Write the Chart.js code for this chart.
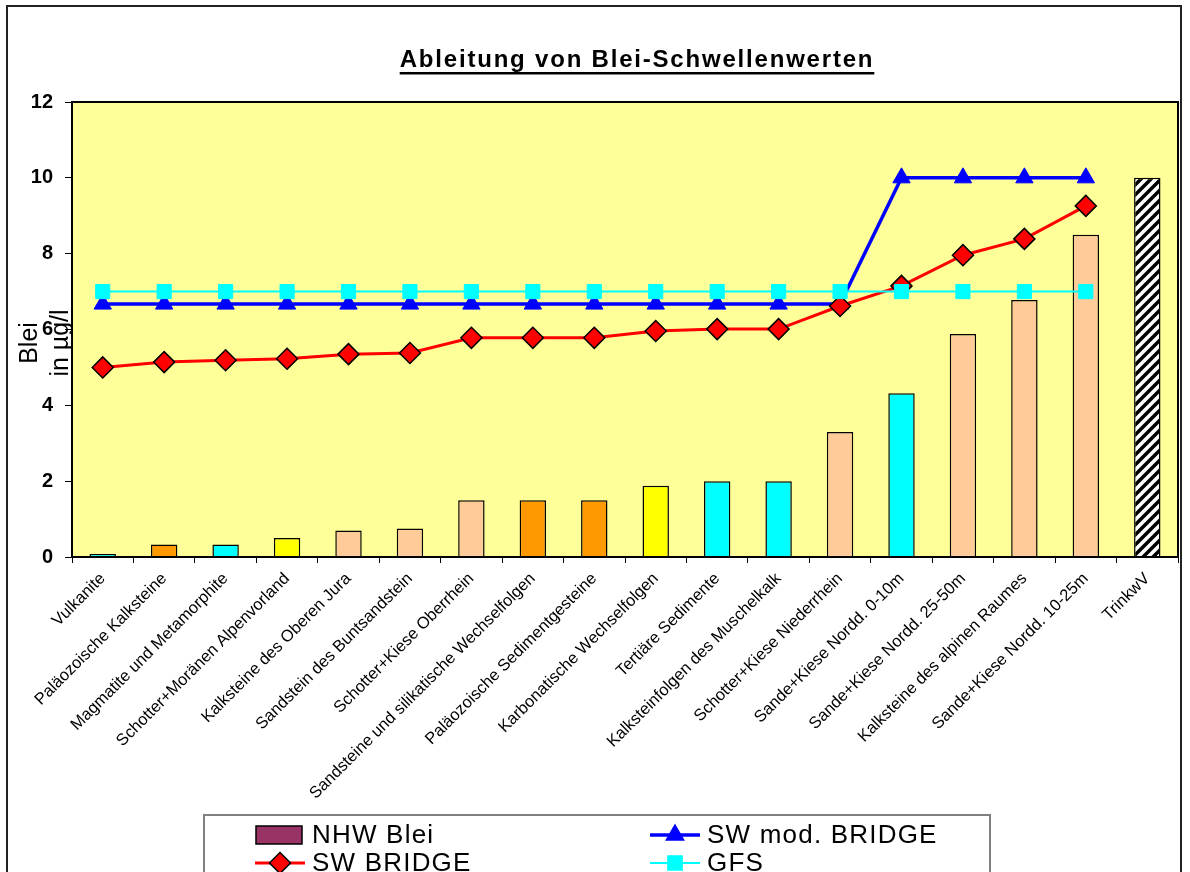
<!DOCTYPE html>
<html>
<head>
<meta charset="utf-8">
<script src="https://cdn.jsdelivr.net/npm/chart.js@4.4.0/dist/chart.umd.min.js"></script>
<style>
  html, body { margin: 0; padding: 0; background: #fff; }
</style>
</head>
<body>
<canvas id="chart" width="1190" height="872"></canvas>
<script>
const categories = [
  'Vulkanite', 'Paläozoische Kalksteine', 'Magmatite und Metamorphite',
  'Schotter+Moränen Alpenvorland', 'Kalksteine des Oberen Jura',
  'Sandstein des Buntsandstein', 'Schotter+Kiese Oberrhein',
  'Sandsteine und silikatische Wechselfolgen', 'Paläozoische Sedimentgesteine',
  'Karbonatische Wechselfolgen', 'Tertiäre Sedimente',
  'Kalksteinfolgen des Muschelkalk', 'Schotter+Kiese Niederrhein',
  'Sande+Kiese Nordd. 0-10m', 'Sande+Kiese Nordd. 25-50m',
  'Kalksteine des alpinen Raumes', 'Sande+Kiese Nordd. 10-25m', 'TrinkwV'
];
const nhwBlei = [0.08, 0.33, 0.33, 0.5, 0.7, 0.75, 1.5, 1.5, 1.5, 1.88, 2.0, 2.0, 3.3, 4.32, 5.88, 6.78, 8.5, 10];
const swBridge = [5.0, 5.14, 5.19, 5.23, 5.35, 5.38, 5.78, 5.78, 5.78, 5.96, 6.01, 6.01, 6.62, 7.15, 7.96, 8.39, 9.26, null];
const swModBridge = [6.67, 6.67, 6.67, 6.67, 6.67, 6.67, 6.67, 6.67, 6.67, 6.67, 6.67, 6.67, 6.67, 10, 10, 10, 10, null];
const gfs = [7, 7, 7, 7, 7, 7, 7, 7, 7, 7, 7, 7, 7, 7, 7, 7, 7, null];
const yTicks = [0, 2, 4, 6, 8, 10, 12];

const FONT = '"Liberation Sans", Arial, sans-serif';

// diagonal hatch for the TrinkwV bar
function hatch() {
  const c = document.createElement('canvas');
  c.width = 10; c.height = 10;
  const x = c.getContext('2d');
  x.fillStyle = '#fff';
  x.fillRect(0, 0, 10, 10);
  x.strokeStyle = '#000';
  x.lineWidth = 3.5;
  x.beginPath();
  x.moveTo(-5, 5); x.lineTo(5, -5);
  x.moveTo(0, 10); x.lineTo(10, 0);
  x.moveTo(5, 15); x.lineTo(15, 5);
  x.stroke();
  return x.createPattern(c, 'repeat');
}

const cyan = '#00FFFF', orange = '#FF9900', yellow = '#FFFF00', peach = '#FFCC99';
const barColors = [cyan, orange, cyan, yellow, peach, peach, peach, orange, orange,
  yellow, cyan, cyan, peach, cyan, peach, peach, peach, hatch()];

const framePlugin = {
  id: 'frame',
  beforeDraw(chart) {
    const { ctx, chartArea: a } = chart;
    ctx.save();
    ctx.fillStyle = '#fff';
    ctx.fillRect(0, 0, chart.width, chart.height);
    ctx.strokeStyle = '#222';
    ctx.lineWidth = 2;
    ctx.strokeRect(7, 6, 1174, 900);
    ctx.fillStyle = '#FFFF99';
    ctx.fillRect(a.left, a.top, a.right - a.left, a.bottom - a.top);
    ctx.restore();
  },
  afterDatasetsDraw(chart) {
    const { ctx, chartArea: a } = chart;
    ctx.save();
    ctx.strokeStyle = '#000';
    ctx.lineWidth = 2;
    ctx.strokeRect(a.left, a.top, a.right - a.left, a.bottom - a.top);
    ctx.restore();
  }
};

function marker(ctx, style, x, y, r, fill, stroke) {
  ctx.save();
  ctx.beginPath();
  if (style === 'triangle') {
    ctx.moveTo(x, y - r);
    ctx.lineTo(x + r * 0.866, y + r * 0.5);
    ctx.lineTo(x - r * 0.866, y + r * 0.5);
  } else if (style === 'rectRot') {
    ctx.moveTo(x, y - r); ctx.lineTo(x + r, y); ctx.lineTo(x, y + r); ctx.lineTo(x - r, y);
  } else {
    const s = r * Math.SQRT1_2;
    ctx.rect(x - s, y - s, 2 * s, 2 * s);
  }
  ctx.closePath();
  ctx.fillStyle = fill;
  ctx.fill();
  ctx.strokeStyle = stroke;
  ctx.lineWidth = 1.5;
  ctx.stroke();
  ctx.restore();
}

const textPlugin = {
  id: 'texts',
  afterDraw(chart) {
    const ctx = chart.ctx;
    ctx.save();
    // title
    ctx.fillStyle = '#000';
    ctx.font = 'bold 24px ' + FONT;
    ctx.letterSpacing = '1.8px';
    ctx.textBaseline = 'alphabetic';
    ctx.textAlign = 'left';
    const title = 'Ableitung von Blei-Schwellenwerten';
    const w = ctx.measureText(title).width;
    const tx = 637 - w / 2;
    ctx.fillText(title, tx, 67);
    ctx.fillRect(tx, 72, w, 2.5);
    ctx.letterSpacing = '0px';

    // y axis title
    ctx.font = '25px ' + FONT;
    ctx.textAlign = 'center';
    ctx.save();
    ctx.translate(37, 343);
    ctx.rotate(-Math.PI / 2);
    ctx.fillText('Blei', 0, 0);
    ctx.restore();
    ctx.save();
    ctx.translate(68, 343);
    ctx.rotate(-Math.PI / 2);
    ctx.fillText('in µg/l', 0, 0);
    ctx.restore();

    // legend
    ctx.strokeStyle = '#808080';
    ctx.lineWidth = 2;
    ctx.strokeRect(204, 815, 786, 80);
    const ds = chart.data.datasets;
    const slots = [[255, 835], [650, 835], [255, 863], [650, 863]];
    ctx.font = '26px ' + FONT;
    ctx.letterSpacing = '1.2px';
    ctx.textAlign = 'left';
    ctx.textBaseline = 'middle';
    ds.forEach((d, i) => {
      const [x, y] = slots[i];
      if (d.type === 'bar') {
        ctx.fillStyle = '#993366';
        ctx.fillRect(x + 1, y - 9, 46, 18);
        ctx.strokeStyle = '#000';
        ctx.lineWidth = 1.5;
        ctx.strokeRect(x + 1, y - 9, 46, 18);
      } else {
        ctx.strokeStyle = d.borderColor;
        ctx.lineWidth = d.borderWidth;
        ctx.beginPath();
        ctx.moveTo(x, y); ctx.lineTo(x + 50, y);
        ctx.stroke();
        marker(ctx, d.pointStyle, x + 25, y, d.pointRadius, d.pointBackgroundColor, d.pointBorderColor);
      }
      ctx.fillStyle = '#000';
      ctx.fillText(d.label, x + 57, y + 1);
    });
    ctx.restore();
  }
};

new Chart(document.getElementById('chart'), {
  type: 'bar',
  data: {
    labels: categories,
    datasets: [
      {
        type: 'bar',
        label: 'NHW Blei',
        data: nhwBlei,
        backgroundColor: barColors,
        borderColor: '#000',
        borderWidth: 1.5,
        barPercentage: 0.43,
        categoryPercentage: 1,
        order: 3
      },
      {
        type: 'line',
        label: 'SW mod. BRIDGE',
        data: swModBridge,
        borderColor: '#0000FF',
        borderWidth: 3.5,
        pointStyle: 'triangle',
        pointRadius: 10,
        pointBackgroundColor: '#0000FF',
        pointBorderColor: '#0000FF',
        pointBorderWidth: 1,
        order: 2
      },
      {
        type: 'line',
        label: 'SW BRIDGE',
        data: swBridge,
        borderColor: '#FF0000',
        borderWidth: 3,
        pointStyle: 'rectRot',
        pointRadius: 10.5,
        pointBackgroundColor: '#FF0000',
        pointBorderColor: '#000',
        pointBorderWidth: 1.5,
        order: 1
      },
      {
        type: 'line',
        label: 'GFS',
        data: gfs,
        borderColor: '#00FFFF',
        borderWidth: 2,
        pointStyle: 'rect',
        pointRadius: 10,
        pointBackgroundColor: '#00FFFF',
        pointBorderColor: '#00FFFF',
        pointBorderWidth: 1,
        order: 0
      }
    ]
  },
  options: {
    responsive: false,
    animation: false,
    layout: { padding: { top: 102, right: 11, left: 0, bottom: 0 } },
    plugins: {
      legend: { display: false },
      tooltip: { enabled: false },
      title: { display: false }
    },
    scales: {
      x: {
        offset: true,
        border: { display: false },
        grid: { offset: true, drawOnChartArea: false, tickLength: 6, color: '#000' },
        ticks: {
          autoSkip: false, minRotation: 45, maxRotation: 45, padding: 6,
          color: '#000', font: { family: FONT, size: 16.5 }
        },
        afterFit(s) { s.height = 315; s.paddingLeft = 0; s.paddingRight = 0; }
      },
      y: {
        min: 0, max: 12,
        border: { display: false },
        grid: { drawOnChartArea: false, tickLength: 7, color: '#000' },
        afterBuildTicks(s) { s.ticks = yTicks.map(v => ({ value: v })); },
        ticks: { padding: 12, color: '#000', font: { family: FONT, size: 20, weight: 'bold' } },
        afterFit(s) { s.width = 72; }
      }
    }
  },
  plugins: [framePlugin, textPlugin]
});
</script>
</body>
</html>
